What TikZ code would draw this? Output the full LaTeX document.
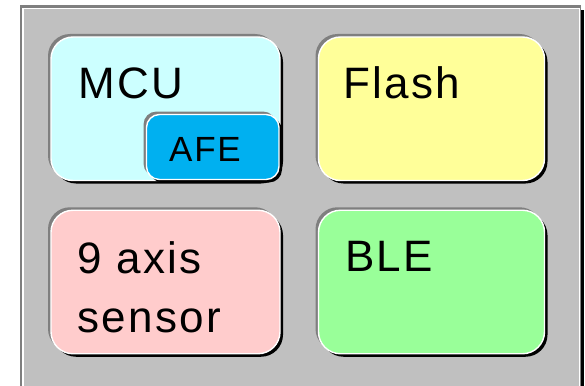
\documentclass[tikz,border=0pt]{standalone}
\usepackage{fontspec}
\setmainfont{Liberation Sans}
\newfontfamily\lblfont[LetterSpace=5]{Liberation Sans}
\usetikzlibrary{shadows}
\definecolor{panelgray}{HTML}{C0C0C0}
\definecolor{bevelgray}{HTML}{7F7F7F}
\definecolor{mcucol}{HTML}{CCFFFF}
\definecolor{flashcol}{HTML}{FFFF99}
\definecolor{sensorcol}{HTML}{FFCCCC}
\definecolor{blecol}{HTML}{99FF99}
\definecolor{afecol}{HTML}{00B0F0}
\begin{document}
\begin{tikzpicture}[x=1pt,y=-1pt,
  raised/.style={rectangle, draw=white, line width=1.4pt, inner sep=0pt, outer sep=0pt,
    general shadow={fill=black, shadow xshift=3pt, shadow yshift=-3pt},
    general shadow={fill=bevelgray, shadow xshift=-3pt, shadow yshift=3pt}},
  block/.style={raised, rounded corners=22pt, minimum width=229pt, minimum height=143.5pt},
  subblock/.style={raised, rounded corners=13pt, minimum width=132.5pt, minimum height=65pt},
  lbl/.style={font=\lblfont\fontsize{44}{59}\selectfont, inner sep=0pt, anchor=base west, align=left},
  sublbl/.style={font=\lblfont\fontsize{35}{40}\selectfont, inner sep=0pt, anchor=base west}]
\clip (0,0) rectangle (585,385);
\fill[white] (0,0) rectangle (585,385);
% board frame: dark edge top/left, black edge right, white inner rim
\fill[black] (23,10) rectangle (584,392);
\fill[bevelgray] (19.5,5) rectangle (580.5,392);
\draw[white, line width=1.2pt, fill=panelgray] (23,8.6) rectangle (579.6,395);
% blocks
\node[block, fill=mcucol] (mcu) at (165.5,108.75) {};
\node[block, fill=flashcol, minimum width=226pt] (flash) at (431.5,108.75) {};
\node[block, fill=sensorcol] (sensor) at (165.5,282) {};
\node[block, fill=blecol, minimum width=226pt] (ble) at (431.5,282) {};
\node[subblock, fill=afecol] (afe) at (212.75,147) {};
% labels (multi-line nodes sit on the baseline of their last line)
\node[lbl] (mcut) at (78.5,98.3) {MCU};
\node[lbl] (flasht) at (343.3,98.3) {Flash};
\node[lbl] (sensort) at (77.5,332.3) {9 axis\\sensor};
\node[lbl] (blet) at (345,271.7) {BLE};
\node[sublbl] (afet) at (169,161.7) {AFE};
\end{tikzpicture}
\end{document}
